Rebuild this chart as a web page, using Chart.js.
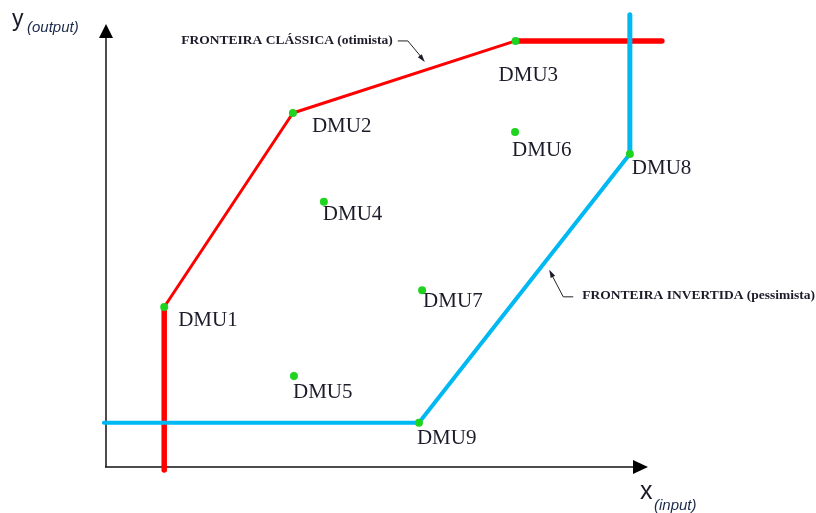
<!DOCTYPE html>
<html lang="pt">
<head>
    <meta charset="UTF-8">
    <title>Fronteira clássica e invertida</title>
    <script src="https://cdn.jsdelivr.net/npm/chart.js"></script>
    <style>
        html, body { margin: 0; padding: 0; background: #fff; }
        #wrap { width: 816px; height: 513px; position: relative; }
    </style>
</head>
<body>
<div id="wrap"><canvas id="dea"></canvas></div>
<script>
    // DMUs (x = input, y = output), units 0..100 along each axis
    const dmuNames = ['DMU1', 'DMU2', 'DMU3', 'DMU4', 'DMU5', 'DMU6', 'DMU7', 'DMU8', 'DMU9'];
    const dmuX = [10.9, 35.0, 76.7, 40.8, 35.2, 76.6, 59.2, 98.1, 58.6];
    const dmuY = [36.2, 80.1, 96.4, 60.0, 20.6, 75.8, 40.0, 70.8, 10.0];

    // fronteira clássica (otimista): vertical de DMU1, DMU1-DMU2-DMU3, horizontal de DMU3
    const classicX = [10.9, 10.9, 35.0, 76.7, 104.1];
    const classicY = [-0.7, 36.2, 80.1, 96.4, 96.4];

    // fronteira invertida (pessimista)
    const invertedX = [-0.4, 58.6, 98.1, 98.1];
    const invertedY = [10.0, 10.0, 70.8, 102.3];

    // label offsets in px (left, top of capitals) relative to each DMU point
    const labelDx = [14, 19, -17, -1, -1, -3, 1, 2, -2];
    const labelDy = [5, 5, 26, 4, 8, 10, 3, 6, 7];

    const xMin = -19.85, xMax = 132.96;
    const yMin = -10.41, yMax = 105.66;

    const points = dmuX.map((x, i) => ({ x: x, y: dmuY[i] }));
    const classicPts = classicX.map((x, i) => ({ x: x, y: classicY[i] }));
    const invertedPts = invertedX.map((x, i) => ({ x: x, y: invertedY[i] }));

    function segWidth(thick, thin) {
        return function (ctx) {
            const a = ctx.p0.parsed, b = ctx.p1.parsed;
            return (a.x === b.x || a.y === b.y) ? thick : thin;
        };
    }

    function arrowHead(c, tipX, tipY, fromX, fromY, len, half) {
        const ang = Math.atan2(tipY - fromY, tipX - fromX);
        c.beginPath();
        c.moveTo(tipX, tipY);
        c.lineTo(tipX - len * Math.cos(ang) + half * Math.sin(ang), tipY - len * Math.sin(ang) - half * Math.cos(ang));
        c.lineTo(tipX - len * Math.cos(ang) - half * Math.sin(ang), tipY - len * Math.sin(ang) + half * Math.cos(ang));
        c.closePath();
        c.fill();
    }

    const deaDecor = {
        id: 'deaDecor',
        beforeDatasetsDraw(chart) {
            const c = chart.ctx;
            const sx = chart.scales.x, sy = chart.scales.y;
            const ox = sx.getPixelForValue(0), oy = sy.getPixelForValue(0);
            const xEnd = sx.getPixelForValue(100), yEnd = sy.getPixelForValue(100);
            c.save();
            c.strokeStyle = '#111';
            c.fillStyle = '#000';
            c.lineWidth = 1.5;
            // eixo y
            c.beginPath();
            c.moveTo(ox, oy);
            c.lineTo(ox, yEnd + 12);
            c.stroke();
            arrowHead(c, ox, yEnd - 1, ox, oy, 14, 7);
            // eixo x
            c.beginPath();
            c.moveTo(ox - 1, oy);
            c.lineTo(xEnd - 6, oy);
            c.stroke();
            arrowHead(c, xEnd + 8, oy, ox, oy, 15, 7);
            c.restore();
        },
        afterDatasetsDraw(chart) {
            const c = chart.ctx;
            const sx = chart.scales.x, sy = chart.scales.y;
            const ox = sx.getPixelForValue(0), oy = sy.getPixelForValue(0);
            const xEnd = sx.getPixelForValue(100), yEnd = sy.getPixelForValue(100);
            c.save();
            // rótulos dos DMUs
            c.fillStyle = '#1b1b2a';
            c.font = '21px "Liberation Serif", "DejaVu Serif", serif';
            c.textBaseline = 'alphabetic';
            c.textAlign = 'left';
            dmuNames.forEach((name, i) => {
                const px = sx.getPixelForValue(dmuX[i]);
                const py = sy.getPixelForValue(dmuY[i]);
                c.fillText(name, px + labelDx[i], py + labelDy[i] + 14);
            });

            // títulos dos eixos
            c.font = '23px "Liberation Sans", Arial, sans-serif';
            c.fillText('y', ox - 94, yEnd + 1);
            c.font = 'italic 15px "Liberation Sans", Arial, sans-serif';
            c.fillStyle = '#1c2a4a';
            c.fillText('(output)', ox - 79, yEnd + 7);
            c.fillStyle = '#1b1b2a';
            c.font = '25px "Liberation Sans", Arial, sans-serif';
            c.fillText('x', xEnd, oy + 32);
            c.font = 'italic 15px "Liberation Sans", Arial, sans-serif';
            c.fillStyle = '#1c2a4a';
            c.fillText('(input)', xEnd + 14, oy + 43);

            // anotações
            c.fillStyle = '#1b1b2a';
            c.strokeStyle = '#222';
            c.lineWidth = 1;
            c.font = 'bold 13.5px "Liberation Serif", "DejaVu Serif", serif';
            c.textBaseline = 'middle';
            c.textAlign = 'right';
            const cx = sx.getPixelForValue(55.4), cy = sy.getPixelForValue(96.4);
            c.fillText('FRONTEIRA CLÁSSICA (otimista)', cx - 9, cy);
            c.beginPath();
            c.moveTo(cx - 4, cy);
            c.lineTo(cx + 6, cy);
            c.lineTo(cx + 21, cy + 18);
            c.stroke();
            arrowHead(c, cx + 23, cy + 21, cx + 6, cy, 8, 2.5);

            c.textAlign = 'left';
            const ix = sx.getPixelForValue(87.5), iy = sy.getPixelForValue(38.5);
            c.fillText('FRONTEIRA INVERTIDA (pessimista)', ix + 9, iy - 1);
            c.beginPath();
            c.moveTo(ix, iy);
            c.lineTo(ix - 10, iy);
            c.lineTo(ix - 22, iy - 23);
            c.stroke();
            arrowHead(c, ix - 24, iy - 27, ix - 10, iy, 8, 2.5);
            c.restore();
        }
    };

    new Chart(document.getElementById('dea'), {
        type: 'scatter',
        data: {
            datasets: [
                {
                    label: 'DMUs',
                    data: points,
                    pointRadius: 4,
                    pointHoverRadius: 4,
                    backgroundColor: '#1fd41f',
                    borderColor: '#1fd41f',
                    borderWidth: 0,
                    order: 0
                },
                {
                    label: 'Fronteira clássica',
                    data: classicPts,
                    showLine: true,
                    pointRadius: 0,
                    borderColor: '#ff0000',
                    borderCapStyle: 'round',
                    borderJoinStyle: 'round',
                    borderWidth: 3,
                    segment: { borderWidth: segWidth(5.5, 3) },
                    order: 2
                },
                {
                    label: 'Fronteira invertida',
                    data: invertedPts,
                    showLine: true,
                    pointRadius: 0,
                    borderColor: '#00b9f2',
                    borderCapStyle: 'round',
                    borderJoinStyle: 'round',
                    borderWidth: 4,
                    segment: { borderWidth: ctx => (ctx.p0.parsed.x === ctx.p1.parsed.x ? 5 : 4) },
                    order: 1
                }
            ]
        },
        options: {
            responsive: true,
            maintainAspectRatio: false,
            animation: false,
            layout: { padding: 0, autoPadding: false },
            clip: false,
            plugins: {
                legend: { display: false },
                tooltip: { enabled: false }
            },
            scales: {
                x: { type: 'linear', min: xMin, max: xMax, display: false },
                y: { type: 'linear', min: yMin, max: yMax, display: false }
            }
        },
        plugins: [deaDecor]
    });
</script>
</body>
</html>
